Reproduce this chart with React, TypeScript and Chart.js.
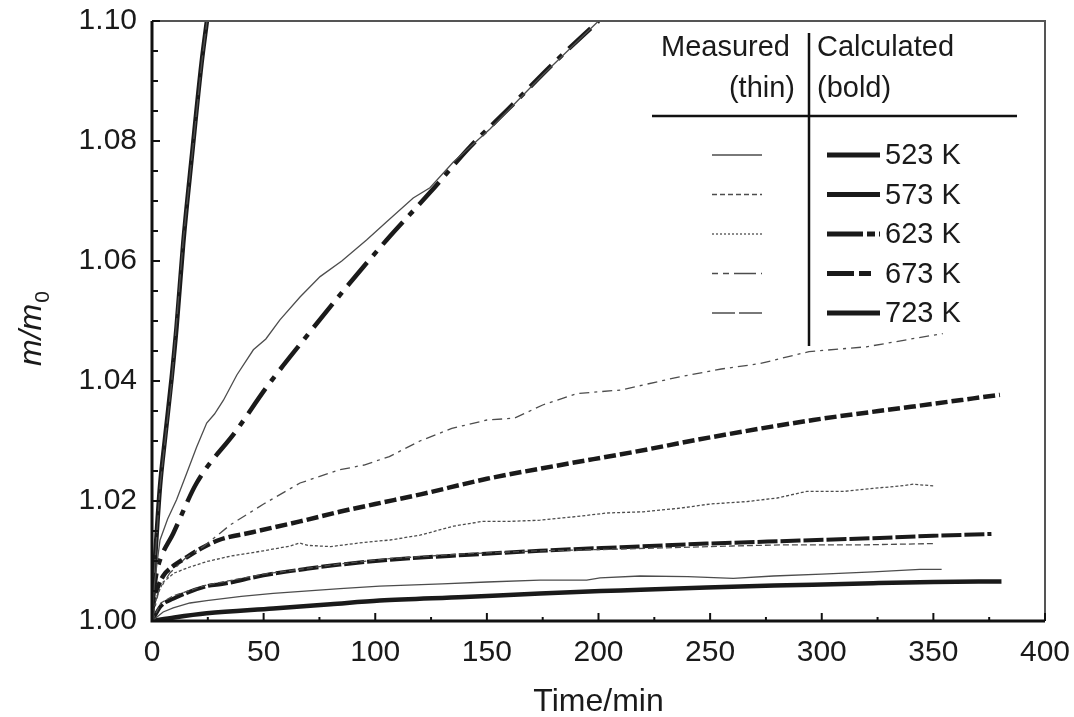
import React, { useEffect, useRef } from "react";
import { Chart, registerables } from "chart.js";

Chart.register(...registerables);

// ---------- axis ticks ----------
const xTickValues = [0, 50, 100, 150, 200, 250, 300, 350, 400];
const yTickValues = [1.0, 1.02, 1.04, 1.06, 1.08, 1.1];

// ---------- legend text ----------
const legendTemps = ["523 K", "573 K", "623 K", "673 K", "723 K"];

// ---------- series (time in min, m/m0) ----------
// 723 K calculated (bold solid, steep)
const t723Calc = [0, 1, 2, 3.6, 6, 8.8, 11, 14, 18, 22.2, 24.6];
const m723Calc = [1.0, 1.008, 1.014, 1.0225, 1.031, 1.0405, 1.049, 1.063, 1.078, 1.093, 1.1];
// 723 K measured (thin long dash, hidden under the steep line)
const t723Meas = [0, 1, 3.6, 8.8, 14, 22.2, 24.6];
const m723Meas = [1.0, 1.008, 1.0225, 1.0398, 1.0635, 1.0928, 1.1];

// thin solid upper measured curve
const tUpperMeas = [0, 1, 3.6, 7, 11, 15.5, 20, 24.5, 28, 32, 38, 45.4, 51, 57.3, 66.3, 75.3, 85, 96.1, 105, 117, 124.5, 135, 151.4, 175, 200];
const mUpperMeas = [1.0, 1.006, 1.0135, 1.017, 1.0202, 1.0246, 1.029, 1.033, 1.0345, 1.0368, 1.041, 1.0452, 1.047, 1.0502, 1.054, 1.0574, 1.06, 1.0635, 1.0665, 1.0705, 1.0722, 1.0765, 1.082, 1.091, 1.1];
// bold dash-dot calculated curve
const tUpperCalc = [0, 2, 3.6, 9.5, 20, 37.9, 51.4, 67.8, 87.2, 105.1, 124.5, 142.4, 160, 180, 200];
const mUpperCalc = [1.003, 1.008, 1.0102, 1.0146, 1.023, 1.0318, 1.039, 1.0468, 1.0557, 1.0635, 1.0714, 1.079, 1.0855, 1.093, 1.1];

// 673 K measured (thin dash-dot)
const t673Meas = [0, 3, 8, 15, 23, 35, 50, 66.3, 84, 95, 106.3, 120, 134.3, 150, 162.3, 175, 190.2, 210, 236.3, 255, 272.2, 294.3, 320, 340, 354.2];
const m673Meas = [1.0, 1.005, 1.008, 1.0105, 1.0124, 1.016, 1.0195, 1.023, 1.0252, 1.026, 1.0274, 1.03, 1.0321, 1.0335, 1.0338, 1.036, 1.0379, 1.0385, 1.0407, 1.042, 1.0429, 1.0449, 1.0457, 1.047, 1.0479];
// 673 K calculated (bold dashes)
const t673Calc = [0, 2, 5, 9, 15, 21.5, 30, 45, 66.3, 84, 100, 120.3, 150, 180, 216.2, 250, 296.2, 340, 379.8];
const m673Calc = [1.002, 1.005, 1.0075, 1.009, 1.0105, 1.012, 1.0135, 1.0148, 1.0166, 1.0182, 1.0195, 1.0211, 1.0237, 1.0258, 1.0282, 1.0306, 1.0335, 1.0357, 1.0377];

// 623 K measured (thin dotted)
const t623Meas = [0, 2, 5, 10, 17, 24.5, 35, 50, 62, 66, 70, 80, 95, 106.6, 120, 135, 148, 160, 173.8, 190, 203.7, 220, 236.5, 250, 266.4, 280, 293.3, 310, 323, 335, 341, 350.7];
const m623Meas = [1.0, 1.004, 1.0065, 1.008, 1.009, 1.0099, 1.0108, 1.0117, 1.0125, 1.013, 1.0126, 1.0124, 1.0131, 1.0135, 1.0143, 1.0158, 1.0166, 1.0166, 1.0168, 1.0174, 1.018, 1.0182, 1.0188, 1.0195, 1.0199, 1.0205, 1.0216, 1.0216, 1.0221, 1.0225, 1.0228, 1.0225];

// 573 K calculated (bold long dashes)
const t573Calc = [0, 4, 9.5, 24.5, 32, 50, 69.3, 84.2, 106.6, 140, 173.8, 210, 248.4, 290, 323, 350, 376];
const m573Calc = [1.0, 1.0025, 1.0037, 1.0058, 1.0062, 1.0076, 1.0087, 1.0094, 1.0102, 1.011, 1.0117, 1.0123, 1.0129, 1.0134, 1.0138, 1.0142, 1.0145];
// 573 K measured (thin dashed)
const t573Meas = [0, 4, 9.5, 24.5, 50, 84, 106.6, 140, 173.8, 200, 230, 260, 283, 320, 350];
const m573Meas = [1.0, 1.003, 1.0042, 1.006, 1.0078, 1.0095, 1.0104, 1.0112, 1.0117, 1.0119, 1.0122, 1.0125, 1.0127, 1.0127, 1.0129];

// 523 K measured (thin solid)
const t523Meas = [0, 5, 9.5, 17, 24.5, 40, 54.3, 84.2, 102, 130, 150, 173.8, 194.7, 200.7, 218.6, 240, 260.4, 278.3, 300, 323, 344, 353.7];
const m523Meas = [1.0, 1.0015, 1.0022, 1.003, 1.0034, 1.0041, 1.0046, 1.0054, 1.0058, 1.0062, 1.0065, 1.0068, 1.0068, 1.0072, 1.0075, 1.0074, 1.0071, 1.0075, 1.0078, 1.0082, 1.0086, 1.0086];
// 523 K calculated (bold solid)
const t523Calc = [0, 10, 24.5, 54.3, 80, 102, 140, 173.8, 210, 248.4, 290, 323, 350, 380.5];
const m523Calc = [1.0, 1.0006, 1.0013, 1.0021, 1.0028, 1.0034, 1.004, 1.0046, 1.0051, 1.0056, 1.006, 1.0063, 1.0065, 1.0066];

const pts = (t: number[], m: number[]) => t.map((x, i) => ({ x, y: m[i] }));

const FONT = "'Liberation Sans', Arial, Helvetica, sans-serif";
const INK = "#1a1a1a";
const THIN = "#4d4d4d";

const thin = (t: number[], m: number[], dash: number[]) => ({
  data: pts(t, m),
  borderColor: THIN,
  borderWidth: 1.3,
  borderDash: dash,
  pointRadius: 0,
  tension: 0,
  fill: false,
});
const bold = (t: number[], m: number[], dash: number[], w = 4.5) => ({
  data: pts(t, m),
  borderColor: INK,
  borderWidth: w,
  borderDash: dash,
  pointRadius: 0,
  cubicInterpolationMode: "monotone" as const,
  fill: false,
});

const decorPlugin = {
  id: "decor",
  afterDatasetsDraw(chart: any) {
    const { ctx, chartArea: ca, scales } = chart;
    const xs = scales.x;
    const ys = scales.y;
    ctx.save();
    ctx.setLineDash([]);
    // thin frame top/right
    ctx.strokeStyle = "#555";
    ctx.lineWidth = 2;
    ctx.beginPath();
    ctx.moveTo(ca.left, ca.top);
    ctx.lineTo(ca.right, ca.top);
    ctx.lineTo(ca.right, ca.bottom);
    ctx.stroke();
    // thick axes left/bottom
    ctx.strokeStyle = "#111";
    ctx.lineWidth = 3;
    ctx.beginPath();
    ctx.moveTo(ca.left, ca.top);
    ctx.lineTo(ca.left, ca.bottom);
    ctx.lineTo(ca.right, ca.bottom);
    ctx.stroke();
    // inward ticks
    ctx.lineWidth = 2;
    for (let v = 0; v <= 400; v += 25) {
      const px = xs.getPixelForValue(v);
      const len = v % 50 === 0 ? 8 : 4;
      ctx.beginPath();
      ctx.moveTo(px, ca.bottom);
      ctx.lineTo(px, ca.bottom - len);
      ctx.stroke();
    }
    for (let i = 0; i <= 20; i++) {
      const v = 1 + i * 0.005;
      const py = ys.getPixelForValue(v);
      const len = i % 4 === 0 ? 8 : 6;
      ctx.beginPath();
      ctx.moveTo(ca.left, py);
      ctx.lineTo(ca.left + len, py);
      ctx.stroke();
    }

    // axis titles
    ctx.fillStyle = INK;
    ctx.font = `32px ${FONT}`;
    ctx.textAlign = "center";
    ctx.textBaseline = "alphabetic";
    ctx.fillText("Time/min", (ca.left + ca.right) / 2, 711);

    ctx.save();
    ctx.translate(41, 329);
    ctx.rotate(-Math.PI / 2);
    ctx.font = `italic 32px ${FONT}`;
    const main = "m/m";
    const wMain = ctx.measureText(main).width;
    ctx.font = `21px ${FONT}`;
    const wSub = ctx.measureText("0").width;
    const start = -(wMain + wSub) / 2;
    ctx.textAlign = "left";
    ctx.font = `italic 32px ${FONT}`;
    ctx.fillText(main, start, 0);
    ctx.font = `21px ${FONT}`;
    ctx.fillText("0", start + wMain + 1, 8);
    ctx.restore();

    // legend table
    ctx.font = `29px ${FONT}`;
    ctx.textBaseline = "middle";
    ctx.textAlign = "right";
    ctx.fillText("Measured", 790, 48);
    ctx.fillText("(thin)", 795, 89);
    ctx.textAlign = "left";
    ctx.fillText("Calculated", 817, 48);
    ctx.fillText("(bold)", 817, 89);

    ctx.strokeStyle = "#111";
    ctx.lineWidth = 2.5;
    ctx.beginPath();
    ctx.moveTo(809, 33);
    ctx.lineTo(809, 346);
    ctx.moveTo(652, 116);
    ctx.lineTo(1017, 116);
    ctx.stroke();

    const rowY = [155, 194.5, 234, 273.5, 313];
    const thinDash = [[], [5, 3], [2, 2], [6, 5, 6, 5, 22, 5], [23, 4]];
    const boldDash = [[], [], [36, 4, 8, 4], [27, 5, 12, 20], []];
    rowY.forEach((ry, i) => {
      ctx.strokeStyle = THIN;
      ctx.lineWidth = 1.3;
      ctx.setLineDash(thinDash[i]);
      ctx.beginPath();
      ctx.moveTo(712, ry);
      ctx.lineTo(762, ry);
      ctx.stroke();
      ctx.strokeStyle = INK;
      ctx.lineWidth = 5;
      ctx.setLineDash(boldDash[i]);
      ctx.beginPath();
      ctx.moveTo(827, ry);
      ctx.lineTo(880, ry);
      ctx.stroke();
      ctx.setLineDash([]);
      ctx.fillStyle = INK;
      ctx.textAlign = "left";
      ctx.fillText(legendTemps[i], 885, ry + 1);
    });
    ctx.restore();
  },
};

export default function App() {
  const ref = useRef<HTMLCanvasElement | null>(null);
  useEffect(() => {
    if (!ref.current) return;
    const chart = new Chart(ref.current, {
      type: "line",
      data: {
        datasets: [
          thin(t523Meas, m523Meas, []),
          thin(t573Meas, m573Meas, [6, 3]),
          thin(t623Meas, m623Meas, [3, 2]),
          thin(t673Meas, m673Meas, [10, 5, 3, 5]),
          thin(tUpperMeas, mUpperMeas, []),
          bold(t523Calc, m523Calc, []),
          bold(t573Calc, m573Calc, [20, 3], 4),
          bold(t673Calc, m673Calc, [12, 4], 4.5),
          bold(tUpperCalc, mUpperCalc, [30, 9, 6, 9], 4.5),
          thin(t723Meas, m723Meas, [18, 4]),
          bold(t723Calc, m723Calc, [], 4.5),
        ] as any,
      },
      options: {
        responsive: false,
        animation: false,
        devicePixelRatio: 1,
        layout: { padding: { left: 0, right: 29, top: 21, bottom: 0 } },
        plugins: {
          legend: { display: false },
          tooltip: { enabled: false },
          title: { display: false },
        },
        scales: {
          x: {
            type: "linear",
            min: 0,
            max: 400,
            afterFit: (s: any) => {
              s.height = 96;
              s.paddingLeft = 0;
              s.paddingRight = 0;
              s.paddingTop = 0;
              s.paddingBottom = 0;
            },
            afterBuildTicks: (s: any) => {
              s.ticks = xTickValues.map((v) => ({ value: v }));
            },
            grid: { display: false, drawTicks: false },
            border: { display: false },
            ticks: {
              padding: 14,
              color: INK,
              font: { family: FONT, size: 30 },
              maxRotation: 0,
              callback: (v: any) => String(v),
            },
          },
          y: {
            type: "linear",
            min: 1.0,
            max: 1.1,
            afterFit: (s: any) => {
              s.width = 152;
              s.paddingLeft = 0;
              s.paddingRight = 0;
              s.paddingTop = 0;
              s.paddingBottom = 0;
            },
            afterBuildTicks: (s: any) => {
              s.ticks = yTickValues.map((v) => ({ value: v }));
            },
            grid: { display: false, drawTicks: false },
            border: { display: false },
            ticks: {
              padding: 15,
              color: INK,
              font: { family: FONT, size: 30 },
              callback: (v: any) => Number(v).toFixed(2),
            },
          },
        },
      } as any,
      plugins: [decorPlugin],
    });
    return () => chart.destroy();
  }, []);
  return (
    <div style={{ position: "fixed", left: 0, top: 0, width: 1074, height: 717, background: "#fff" }}>
      <canvas ref={ref} width={1074} height={717} style={{ display: "block" }} />
    </div>
  );
}
